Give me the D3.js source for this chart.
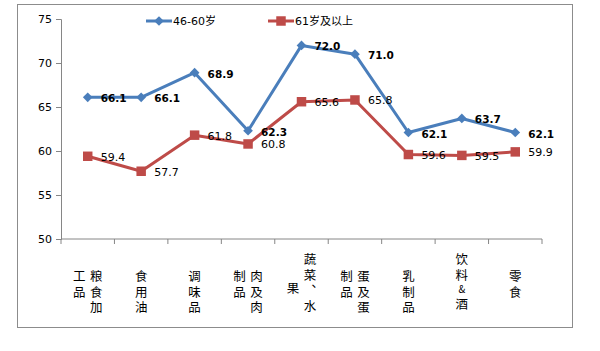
<!DOCTYPE html>
<html>
<head>
<meta charset="utf-8">
<script src="https://cdn.jsdelivr.net/npm/d3@7"></script>
<style>
  body { margin: 0; background: #fff; }
  svg { display: block; }
  .vlabel { writing-mode: vertical-rl; text-orientation: upright; }
</style>
</head>
<body>
<div id="viz"></div>
<script>
// categories, each one written as vertical columns (right column first)
let categories = [
  ["粮食加", "工品"],
  ["食用油"],
  ["调味品"],
  ["肉及肉", "制品"],
  ["蔬菜、水", "果"],
  ["蛋及蛋", "制品"],
  ["乳制品"],
  ["饮料&酒"],
  ["零食"]
];

let seriesNames = ["46-60岁", "61岁及以上"];
let middleAge = [66.1, 66.1, 68.9, 62.3, 72.0, 71.0, 62.1, 63.7, 62.1];
let senior = [59.4, 57.7, 61.8, 60.8, 65.6, 65.8, 59.6, 59.5, 59.9];
let yTicks = [50, 55, 60, 65, 70, 75];

let colors = ["#4A7EBB", "#BE4B48"];

const width = 600, height = 351;

const svg = d3.select("#viz").append("svg")
  .attr("width", width)
  .attr("height", height);

// outer chart frame
svg.append("rect")
  .attr("x", 17.5).attr("y", 4.5)
  .attr("width", 555).attr("height", 323)
  .attr("fill", "#fff")
  .attr("stroke", "#8c8c8c");

// scales
const x = d3.scaleBand()
  .domain(d3.range(categories.length))
  .range([61, 542])
  .padding(0);

const y = d3.scaleLinear()
  .domain([50, 75])
  .range([239, 19]);

const cx = i => x(i) + x.bandwidth() / 2;

// y axis
const yAxis = svg.append("g")
  .attr("transform", "translate(61,0)")
  .call(d3.axisLeft(y).tickValues(yTicks).tickSize(5).tickPadding(4));
yAxis.select(".domain").attr("stroke", "#868686");
yAxis.selectAll(".tick line").attr("stroke", "#868686");
yAxis.selectAll(".tick text")
  .attr("font-family", "DejaVu Sans, sans-serif")
  .attr("font-size", 11)
  .attr("fill", "#000");

// x axis with ticks on band boundaries
const xAxis = svg.append("g").attr("transform", "translate(0,239)");
xAxis.append("line")
  .attr("x1", 61).attr("x2", 542)
  .attr("stroke", "#868686");
xAxis.selectAll(".xt")
  .data(d3.range(categories.length + 1))
  .join("line")
  .attr("class", "xt")
  .attr("x1", d => d < categories.length ? x(d) : x(d - 1) + x.bandwidth())
  .attr("x2", d => d < categories.length ? x(d) : x(d - 1) + x.bandwidth())
  .attr("y1", 0).attr("y2", 5)
  .attr("stroke", "#868686");

// vertical category labels: one vertical text per column
const fontSize = 12.5;
const rowPitch = 15.7;
const labelTop = 276;  // centre of the first row
categories.forEach((cols, i) => {
  const n = cols.length;
  const longest = d3.max(cols, c => Array.from(c).length);
  cols.forEach((col, ci) => {
    const chars = Array.from(col);
    const colX = cx(i) + (n === 1 ? 0 : (ci === 0 ? 8.5 : -8.5));
    let top = labelTop - (longest > 3 ? rowPitch + 1 : 0);
    if (chars.length === 1 && longest > 1) {
      top = labelTop - (longest > 3 ? rowPitch : 0) + (longest - 1) * rowPitch / 2 + 4;
    }
    const t = svg.append("text")
      .attr("class", "vlabel")
      .attr("x", colX)
      .attr("y", top - fontSize / 2)
      .attr("font-family", "Noto Sans CJK SC, sans-serif")
      .attr("font-size", fontSize)
      .attr("letter-spacing", rowPitch - fontSize)
      .attr("fill", "#000");
    chars.forEach(ch => {
      t.append("tspan")
        .attr("font-size", ch === "&" ? 10 : null)
        .text(ch);
    });
  });
});

// lines
const line = d3.line()
  .x((d, i) => cx(i))
  .y(d => y(d));

const series = [middleAge, senior];

series.forEach((data, s) => {
  svg.append("path")
    .datum(data)
    .attr("fill", "none")
    .attr("stroke", colors[s])
    .attr("stroke-width", 3)
    .attr("stroke-linejoin", "round")
    .attr("d", line);
});

// markers
const diamond = d3.symbol().type(d3.symbolDiamond2).size(60);
const square = d3.symbol().type(d3.symbolSquare).size(90);

svg.selectAll(".m0")
  .data(middleAge)
  .join("path")
  .attr("class", "m0")
  .attr("transform", (d, i) => `translate(${cx(i)},${y(d)})`)
  .attr("d", diamond)
  .attr("fill", colors[0]);

svg.selectAll(".m1")
  .data(senior)
  .join("path")
  .attr("class", "m1")
  .attr("transform", (d, i) => `translate(${cx(i)},${y(d)})`)
  .attr("d", square)
  .attr("fill", colors[1]);

// data labels
svg.selectAll(".l0")
  .data(middleAge)
  .join("text")
  .attr("class", "l0")
  .attr("x", (d, i) => cx(i) + 13)
  .attr("y", d => y(d) + 1)
  .attr("dominant-baseline", "central")
  .attr("font-family", "DejaVu Sans, sans-serif")
  .attr("font-size", 10.5)
  .attr("font-weight", "bold")
  .attr("fill", "#000")
  .text(d => d.toFixed(1));

svg.selectAll(".l1")
  .data(senior)
  .join("text")
  .attr("class", "l1")
  .attr("x", (d, i) => cx(i) + 13)
  .attr("y", d => y(d) + 1)
  .attr("dominant-baseline", "central")
  .attr("font-family", "DejaVu Sans, sans-serif")
  .attr("font-size", 11)
  .attr("fill", "#000")
  .text(d => d.toFixed(1));

// legend
const legendItems = [
  { x: 146, symbol: diamond },
  { x: 268, symbol: square }
];
legendItems.forEach((item, s) => {
  const g = svg.append("g").attr("transform", `translate(${item.x},21)`);
  g.append("line")
    .attr("x1", 0).attr("x2", 26)
    .attr("stroke", colors[s]).attr("stroke-width", 3);
  g.append("path")
    .attr("transform", "translate(13,0)")
    .attr("d", item.symbol)
    .attr("fill", colors[s]);
  g.append("text")
    .attr("x", 27)
    .attr("y", 0)
    .attr("dominant-baseline", "central")
    .attr("font-family", "DejaVu Sans, Noto Sans CJK SC, sans-serif")
    .attr("font-size", 11)
    .attr("fill", "#000")
    .text(seriesNames[s]);
});
</script>
</body>
</html>
